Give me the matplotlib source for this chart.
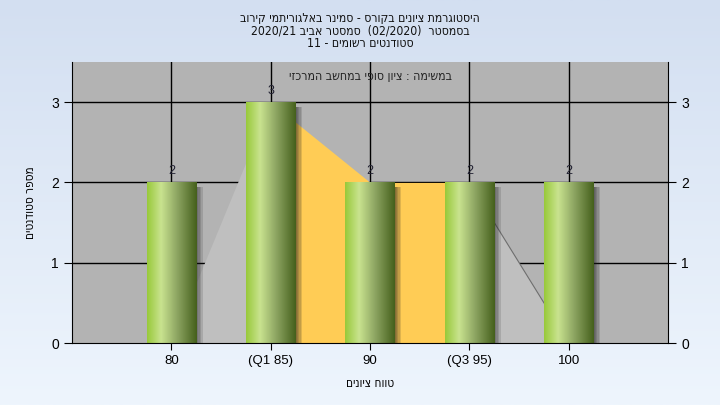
import re
import matplotlib.pyplot as plt
import matplotlib.colors as colors
import numpy as np

### Data ###
categories = ['80', '(Q1 85)', '90', '(Q3 95)', '100']
counts = [2, 3, 2, 2, 2]
# background area (spread curve), yellow between the quartiles
area_vals = [0, 3, 2, 2, 0]
q1_idx, q3_idx = 1, 3

title_lines = ['היסטוגרמת ציונים בקורס - סמינר באלגוריתמי קירוב',
               'בסמסטר  (02/2020)  סמסטר אביב 2020/21',
               'סטודנטים רשומים - 11']
subtitle = 'במשימה : ציון סופי במחשב המרכזי'
xlabel = 'טווח ציונים'
ylabel = 'מספר סטודנטים'


def heb(s):
    # matplotlib has no bidi: flip to visual order, keep latin/number runs LTR
    r = s[::-1]
    r = re.sub(r'[0-9A-Za-z][0-9A-Za-z/.]*', lambda m: m.group(0)[::-1], r)
    return r.translate(str.maketrans('()', ')('))


plt.rcParams['font.family'] = ['Liberation Sans', 'DejaVu Sans']
plt.rcParams['font.size'] = 9
# narrow face for the hebrew texts
narrow = dict(family=['DejaVu Sans'], stretch='condensed')

fig = plt.figure(figsize=(7.2, 4.05), dpi=100)

# figure background gradient
bg = fig.add_axes([0, 0, 1, 1], zorder=-10)
grad = np.linspace(0, 1, 256).reshape(-1, 1)
bg_cmap = colors.LinearSegmentedColormap.from_list('bg', ['#d3dff1', '#eef5fd'])
bg.imshow(grad, cmap=bg_cmap, aspect='auto', extent=(0, 1, 0, 1))
bg.axis('off')

ax = fig.add_axes([0.1, 0.153, 0.828, 0.694])
ax.set_facecolor('#b3b3b3')
x = np.arange(len(categories))

# grid behind the area
for yv in [1, 2, 3]:
    ax.axhline(yv, color='black', lw=1, zorder=1)
for xv in x:
    ax.axvline(xv, color='black', lw=1, zorder=1)

# area behind the bars
ax.fill_between(x[:q1_idx + 1], area_vals[:q1_idx + 1], color='#bfbfbf', lw=0, zorder=2)
ax.fill_between(x[q3_idx:], area_vals[q3_idx:], color='#bfbfbf', lw=0, zorder=2)
ax.fill_between(x[q1_idx:q3_idx + 1], area_vals[q1_idx:q3_idx + 1], color='#ffcc55', lw=0, zorder=2)
ax.plot(x[q3_idx:], area_vals[q3_idx:], color='#6e6e6e', lw=0.8, zorder=2)

# cylinder-like bars
bar_cmap = colors.LinearSegmentedColormap.from_list(
    'bar', [(0, '#98c93a'), (0.28, '#c9e38f'), (0.6, '#8ea663'), (1, '#45601c')])
hgrad = np.linspace(0, 1, 128).reshape(1, -1)
w = 0.25
for xi, c in zip(x, counts):
    # soft shadow on the right
    for d in [0.01, 0.02, 0.035, 0.05, 0.065]:
        ax.add_patch(plt.Rectangle((xi - w + 0.04, 0), 2 * w - 0.04 + d, c - 0.06,
                                   color='#1e1e1e', alpha=0.14, lw=0, zorder=3))
    ax.imshow(hgrad, cmap=bar_cmap, aspect='auto', extent=(xi - w, xi + w, 0, c),
              zorder=4, interpolation='bilinear')
    ax.annotate(str(c), (xi, c), xytext=(0, 4), textcoords='offset points',
                ha='center', va='bottom', fontsize=9, color='#222233')

ax.set_xlim(-1, 5)
ax.set_ylim(0, 3.5)
ax.set_xticks(x)
ax.set_xticklabels(categories)
ax.set_yticks([0, 1, 2, 3])
ax.tick_params(axis='y', which='both', left=True, right=True, labelleft=True,
               labelright=True, length=6, labelsize=10, direction='out')
ax.tick_params(axis='x', length=5, labelsize=9.5)
for s in ['left', 'right', 'bottom']:
    ax.spines[s].set_color('black')
ax.spines['top'].set_visible(False)
ax.spines['bottom'].set_zorder(5)

ax.set_xlabel(heb(xlabel), fontsize=8.5, labelpad=7, **narrow)
ax.set_ylabel(heb(ylabel), fontsize=8.5, labelpad=10, **narrow)

ax.text(0.5, 0.95, heb(subtitle), transform=ax.transAxes, ha='center', va='center',
        fontsize=8.8, color='#222222', **narrow)

for i, line in enumerate(title_lines):
    fig.text(0.5, 1 - (18.5 + i * 12.5) / 405, heb(line), ha='center', va='center',
             fontsize=8.7, color='#111111', **narrow)

plt.savefig('out.png', dpi=100)
